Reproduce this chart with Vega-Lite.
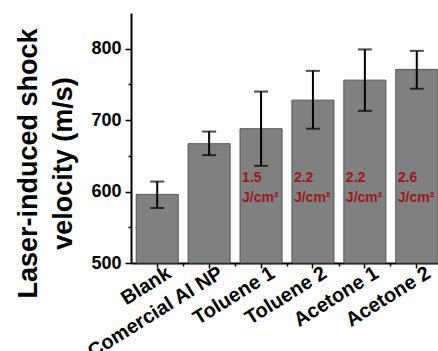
{
  "$schema": "https://vega.github.io/schema/vega-lite/v6.json",
  "width": 312,
  "height": 250,
  "autosize": "none",
  "padding": {"left": 131, "top": 13, "right": 0, "bottom": 88},
  "background": "#fdfdfd",
  "config": {"view": {"stroke": null}, "font": "Liberation Sans"},
  "data": {"values": [
    {"sample": "Blank", "v": 596, "lo": 577, "hi": 614, "l1": "", "l2": ""},
    {"sample": "Comercial Al NP", "v": 667, "lo": 651, "hi": 684, "l1": "", "l2": ""},
    {"sample": "Toluene 1", "v": 688, "lo": 636, "hi": 740, "l1": "1.5", "l2": "J/cm²"},
    {"sample": "Toluene 2", "v": 728, "lo": 688, "hi": 769, "l1": "2.2", "l2": "J/cm²"},
    {"sample": "Acetone 1", "v": 756, "lo": 713, "hi": 799, "l1": "2.2", "l2": "J/cm²"},
    {"sample": "Acetone 2", "v": 771, "lo": 744, "hi": 797, "l1": "2.6", "l2": "J/cm²"}
  ]},
  "resolve": {"axis": {"x": "independent", "y": "independent"}},
  "layer": [
    {
      "mark": {"type": "bar", "color": "#808080", "stroke": "#555555", "strokeWidth": 1},
      "encoding": {
        "x": {"field": "sample", "type": "nominal", "sort": null,
          "scale": {"paddingInner": 0.19, "paddingOuter": 0.1},
          "axis": {"title": null, "orient": "bottom", "labelAngle": -32, "labelAlign": "right", "labelBaseline": "middle",
            "labelFontSize": 20, "labelFontWeight": "bold", "labelColor": "#000", "labelOffset": 12,
            "domainColor": "#000", "domainWidth": 2, "tickColor": "#000", "tickWidth": 1.5, "tickSize": 5, "labelPadding": 3}},
        "y": {"field": "v", "type": "quantitative",
          "scale": {"domain": [500, 850], "nice": false, "zero": false},
          "axis": {"orient": "left", "values": [500, 600, 700, 800], "title": ["Laser-induced shock", "velocity (m/s)"],
            "titleFontSize": 27, "titleFontWeight": "bold", "titleColor": "#000", "titleLineHeight": 35,
            "titleX": -89, "titleY": 150,
            "labelFontSize": 18, "labelFontWeight": "bold", "labelColor": "#000", "labelPadding": 4,
            "domainColor": "#000", "domainWidth": 2, "tickColor": "#000", "tickWidth": 1.5, "tickSize": 6, "grid": false}},
        "y2": {"datum": 500}
      }
    },
    {
      "mark": {"type": "rule", "color": "#000", "strokeWidth": 2},
      "encoding": {
        "x": {"field": "sample", "type": "nominal", "sort": null,
          "axis": {"title": null, "orient": "bottom", "labels": false, "domain": false, "bandPosition": 1.12,
            "tickColor": "#000", "tickWidth": 1.5, "tickSize": 3}},
        "y": {"field": "lo", "type": "quantitative",
          "axis": {"orient": "left", "title": null, "labels": false, "domain": false, "values": [550, 650, 750],
            "tickColor": "#000", "tickWidth": 1.5, "tickSize": 3, "grid": false}},
        "y2": {"field": "hi"}
      }
    },
    {
      "mark": {"type": "tick", "color": "#000", "thickness": 2, "size": 14},
      "encoding": {"x": {"field": "sample", "type": "nominal", "sort": null, "axis": null}, "y": {"field": "lo", "type": "quantitative", "axis": null}}
    },
    {
      "mark": {"type": "tick", "color": "#000", "thickness": 2, "size": 14},
      "encoding": {"x": {"field": "sample", "type": "nominal", "sort": null, "axis": null}, "y": {"field": "hi", "type": "quantitative", "axis": null}}
    },
    {
      "mark": {"type": "text", "align": "left", "baseline": "alphabetic", "dx": 2, "fontSize": 14, "fontWeight": "bold", "color": "#9b1b1b"},
      "encoding": {"x": {"field": "sample", "type": "nominal", "sort": null, "bandPosition": 0, "axis": null}, "y": {"datum": 613, "type": "quantitative", "axis": null}, "text": {"field": "l1"}}
    },
    {
      "mark": {"type": "text", "align": "left", "baseline": "alphabetic", "dx": 2, "fontSize": 14, "fontWeight": "bold", "color": "#9b1b1b"},
      "encoding": {"x": {"field": "sample", "type": "nominal", "sort": null, "bandPosition": 0, "axis": null}, "y": {"datum": 585, "type": "quantitative", "axis": null}, "text": {"field": "l2"}}
    }
  ]
}
